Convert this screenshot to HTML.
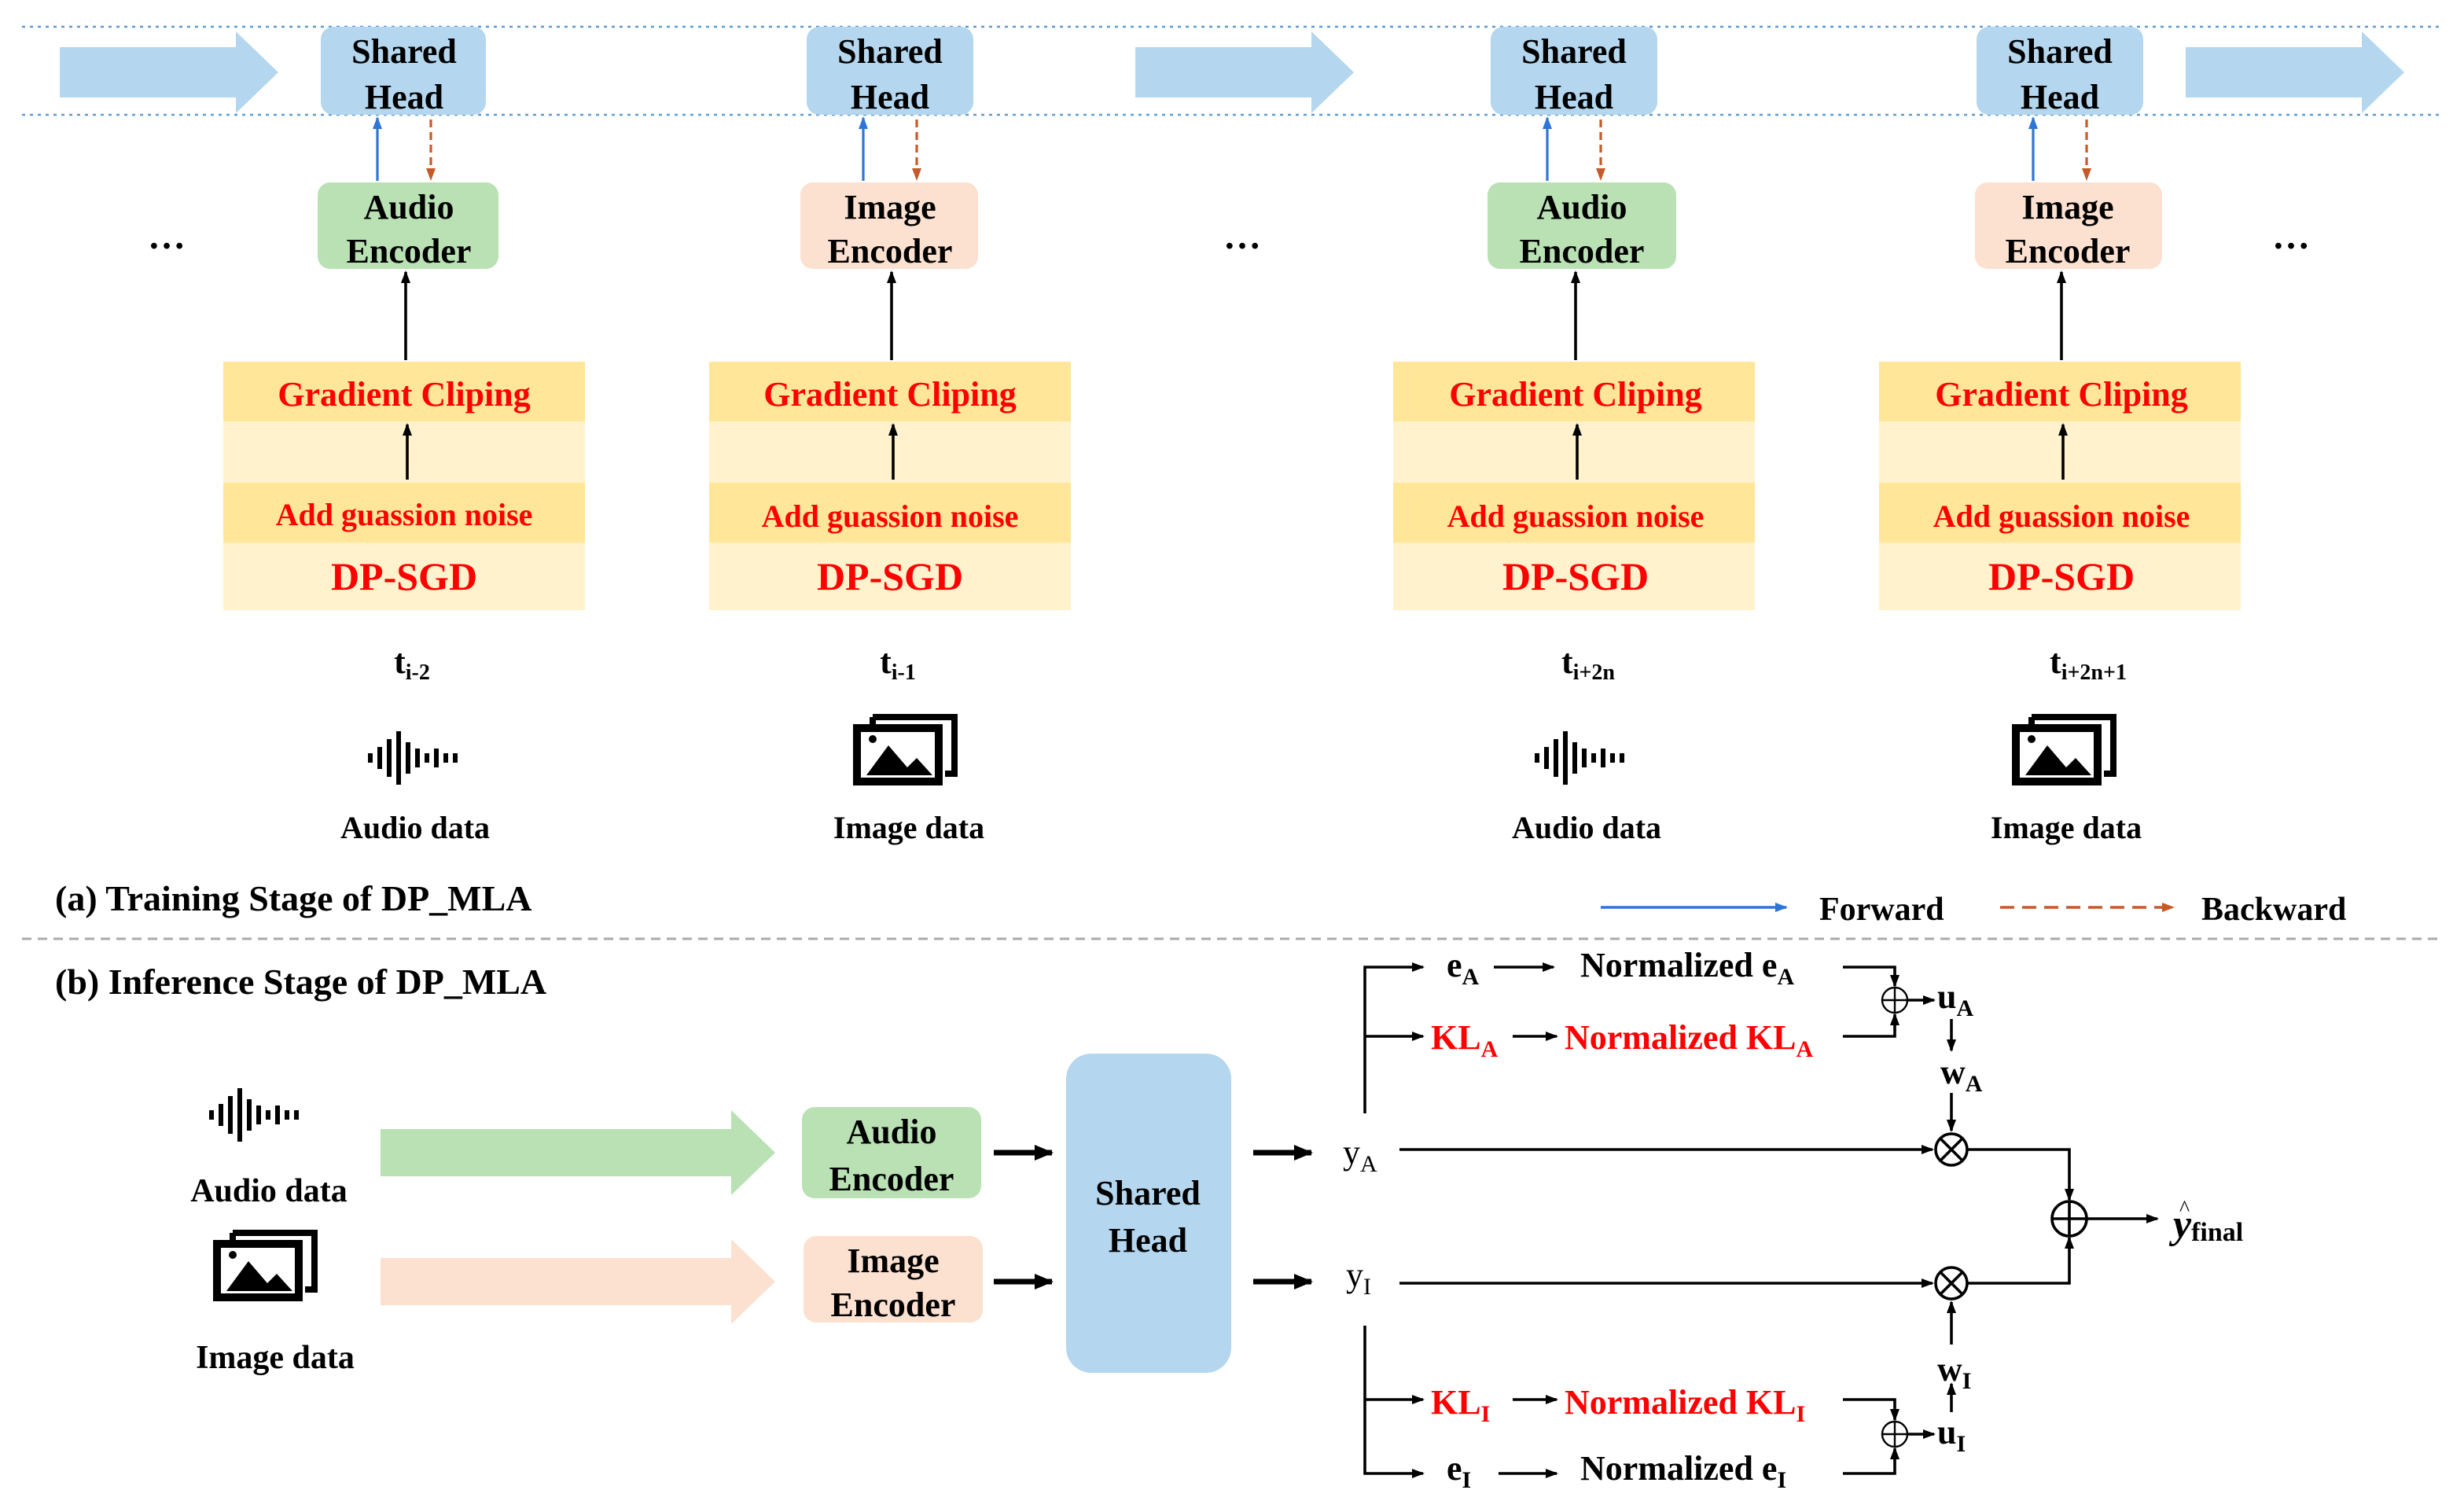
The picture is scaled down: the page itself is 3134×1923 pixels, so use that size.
<!DOCTYPE html>
<html><head><meta charset="utf-8"><style>html,body{margin:0;padding:0;background:#fff}svg{display:block}svg text,svg tspan{font-family:"Liberation Serif","Times New Roman","Noto Serif CJK SC","DejaVu Serif",serif !important}</style></head>
<body>
<svg width="3134" height="1923" viewBox="0 0 1567 961.5" xmlns="http://www.w3.org/2000/svg" font-weight="bold">
<defs>
<marker id="ab" markerWidth="8" markerHeight="8" refX="7" refY="4" orient="auto" markerUnits="userSpaceOnUse"><path d="M0,1 L8,4 L0,7 z" fill="#000"/></marker>
<marker id="abl" markerWidth="8" markerHeight="8" refX="7" refY="4" orient="auto" markerUnits="userSpaceOnUse"><path d="M0,1 L8,4 L0,7 z" fill="#2e75d6"/></marker>
<marker id="ar" markerWidth="8" markerHeight="8" refX="7" refY="4" orient="auto" markerUnits="userSpaceOnUse"><path d="M0,1 L8,4 L0,7 z" fill="#c55a28"/></marker>
<marker id="abig" markerWidth="12" markerHeight="12" refX="11" refY="6" orient="auto" markerUnits="userSpaceOnUse"><path d="M0,1 L12,6 L0,11 z" fill="#000"/></marker>
<g id="audio"><rect x="-28" y="-3" width="3" height="6"/><rect x="-22" y="-7" width="3" height="14"/><rect x="-16" y="-12" width="3" height="24"/><rect x="-10" y="-17" width="3" height="34"/><rect x="-4" y="-10" width="3" height="20"/><rect x="2" y="-6" width="3" height="12"/><rect x="8" y="-3" width="3" height="6"/><rect x="14" y="-6" width="3" height="12"/><rect x="20" y="-3" width="3" height="6"/><rect x="26" y="-3" width="3" height="6"/></g>
<g id="image"><path d="M-20,-24 H32 V12 H26" fill="none" stroke="#000" stroke-width="4"/><path d="M-20,-24 V-18" stroke="#000" stroke-width="4"/><rect x="-30" y="-17" width="52" height="34" fill="#fff" stroke="#000" stroke-width="5"/><path d="M-24,13 L-10,-6 L2,8 L8,2 L18,13 z" fill="#000"/><circle cx="-20" cy="-10" r="2.5" fill="#000"/></g>
</defs>

<line x1="14" y1="17" x2="1552" y2="17" stroke="#5b9bd5" stroke-width="1.2" stroke-dasharray="2,3"/>
<line x1="14" y1="73" x2="1552" y2="73" stroke="#5b9bd5" stroke-width="1.2" stroke-dasharray="2,3"/>

<g fill="#b4d7ef">
<path d="M38,30 H150 V20 L177,46 L150,72 V62 H38 z"/>
<path d="M722,30 H834 V20 L861,46 L834,72 V62 H722 z"/>
<path d="M1390,30 H1502 V20 L1529,46 L1502,72 V62 H1390 z"/>
</g>

<g font-size="22" text-anchor="middle">
<rect x="204" y="17" width="105" height="56" rx="8" fill="#b4d7ef"/>
<text x="257" y="40">Shared</text><text x="257" y="69">Head</text>
<rect x="513" y="17" width="106" height="56" rx="8" fill="#b4d7ef"/>
<text x="566" y="40">Shared</text><text x="566" y="69">Head</text>
<rect x="948" y="17" width="106" height="56" rx="8" fill="#b4d7ef"/>
<text x="1001" y="40">Shared</text><text x="1001" y="69">Head</text>
<rect x="1257" y="17" width="106" height="56" rx="8" fill="#b4d7ef"/>
<text x="1310" y="40">Shared</text><text x="1310" y="69">Head</text>

<rect x="202" y="116" width="115" height="55" rx="8" fill="#b9e1b4"/>
<text x="260" y="139">Audio</text><text x="260" y="167">Encoder</text>
<rect x="509" y="116" width="113" height="55" rx="8" fill="#fce0d0"/>
<text x="566" y="139">Image</text><text x="566" y="167">Encoder</text>
<rect x="946" y="116" width="120" height="55" rx="8" fill="#b9e1b4"/>
<text x="1006" y="139">Audio</text><text x="1006" y="167">Encoder</text>
<rect x="1256" y="116" width="119" height="55" rx="8" fill="#fce0d0"/>
<text x="1315" y="139">Image</text><text x="1315" y="167">Encoder</text>
</g>

<g stroke-width="1.6">
<line x1="240" y1="115" x2="240" y2="75" stroke="#2e75d6" marker-end="url(#abl)"/>
<line x1="274" y1="76" x2="274" y2="114" stroke="#c55a28" stroke-dasharray="5,3" marker-end="url(#ar)"/>
<line x1="549" y1="115" x2="549" y2="75" stroke="#2e75d6" marker-end="url(#abl)"/>
<line x1="583" y1="76" x2="583" y2="114" stroke="#c55a28" stroke-dasharray="5,3" marker-end="url(#ar)"/>
<line x1="984" y1="115" x2="984" y2="75" stroke="#2e75d6" marker-end="url(#abl)"/>
<line x1="1018" y1="76" x2="1018" y2="114" stroke="#c55a28" stroke-dasharray="5,3" marker-end="url(#ar)"/>
<line x1="1293" y1="115" x2="1293" y2="75" stroke="#2e75d6" marker-end="url(#abl)"/>
<line x1="1327" y1="76" x2="1327" y2="114" stroke="#c55a28" stroke-dasharray="5,3" marker-end="url(#ar)"/>
</g>

<g id="dp1">
<rect x="142" y="230" width="230" height="158" fill="#fff2cc"/>
<rect x="142" y="230" width="230" height="38" fill="#ffe699"/>
<rect x="142" y="307" width="230" height="38" fill="#ffe699"/>
</g>
<use href="#dp1" x="309"/><use href="#dp1" x="744"/><use href="#dp1" x="1053"/>
<g fill="#ff0000" text-anchor="middle">
<g font-size="22"><text x="257" y="258">Gradient Cliping</text><text x="566" y="258">Gradient Cliping</text><text x="1002" y="258">Gradient Cliping</text><text x="1311" y="258">Gradient Cliping</text></g>
<g font-size="20"><text x="257" y="334">Add guassion noise</text><text x="566" y="335">Add guassion noise</text><text x="1002" y="335">Add guassion noise</text><text x="1311" y="335">Add guassion noise</text></g>
<g font-size="25"><text x="257" y="375">DP-SGD</text><text x="566" y="375">DP-SGD</text><text x="1002" y="375">DP-SGD</text><text x="1311" y="375">DP-SGD</text></g>
</g>
<g stroke="#000" stroke-width="1.8">
<line x1="258" y1="229" x2="258" y2="173" marker-end="url(#ab)"/>
<line x1="259" y1="305" x2="259" y2="270" marker-end="url(#ab)"/>
<line x1="567" y1="229" x2="567" y2="173" marker-end="url(#ab)"/>
<line x1="568" y1="305" x2="568" y2="270" marker-end="url(#ab)"/>
<line x1="1002" y1="229" x2="1002" y2="173" marker-end="url(#ab)"/>
<line x1="1003" y1="305" x2="1003" y2="270" marker-end="url(#ab)"/>
<line x1="1311" y1="229" x2="1311" y2="173" marker-end="url(#ab)"/>
<line x1="1312" y1="305" x2="1312" y2="270" marker-end="url(#ab)"/>
</g>

<g font-size="24" text-anchor="middle"><text x="106" y="158">…</text><text x="790" y="158">…</text><text x="1457" y="158">…</text></g>

<g font-size="22" text-anchor="middle">
<text x="262" y="428">t<tspan font-size="14" dy="4">i-2</tspan></text>
<text x="571" y="428">t<tspan font-size="14" dy="4">i-1</tspan></text>
<text x="1010" y="428">t<tspan font-size="14" dy="4">i+2n</tspan></text>
<text x="1328" y="428">t<tspan font-size="14" dy="4">i+2n+1</tspan></text>
</g>
<use href="#audio" x="262" y="482"/>
<use href="#image" x="575" y="480"/>
<use href="#audio" x="1004" y="482"/>
<use href="#image" x="1312" y="480"/>
<g font-size="20" text-anchor="middle">
<text x="264" y="533">Audio data</text><text x="578" y="533">Image data</text><text x="1009" y="533">Audio data</text><text x="1314" y="533">Image data</text>
</g>

<text x="35" y="579" font-size="23">(a)  Training Stage of DP_MLA</text>
<line x1="1018" y1="577" x2="1136" y2="577" stroke="#2e75d6" stroke-width="1.8" marker-end="url(#abl)"/>
<text x="1157" y="585" font-size="21">Forward</text>
<line x1="1272" y1="577" x2="1382" y2="577" stroke="#c55a28" stroke-width="1.8" stroke-dasharray="9,5" marker-end="url(#ar)"/>
<text x="1400" y="585" font-size="21">Backward</text>
<line x1="14" y1="597" x2="1552" y2="597" stroke="#aaa" stroke-width="1.5" stroke-dasharray="6,4"/>
<text x="35" y="632" font-size="23">(b)  Inference Stage of DP_MLA</text>

<use href="#audio" x="161" y="709"/>
<text x="171" y="764" font-size="21" text-anchor="middle">Audio data</text>
<use href="#image" x="168" y="808"/>
<text x="175" y="870" font-size="21" text-anchor="middle">Image data</text>
<path d="M242,718 H465 V706 L493,733 L465,760 V748 H242 z" fill="#b9e1b4"/>
<path d="M242,800 H465 V788 L493,815 L465,842 V830 H242 z" fill="#fce0d0"/>
<rect x="510" y="704" width="114" height="58" rx="8" fill="#b9e1b4"/>
<rect x="511" y="786" width="114" height="55" rx="8" fill="#fce0d0"/>
<rect x="678" y="670" width="105" height="203" rx="16" fill="#b4d7ef"/>
<g font-size="22" text-anchor="middle">
<text x="567" y="727">Audio</text><text x="567" y="757">Encoder</text>
<text x="568" y="809">Image</text><text x="568" y="837">Encoder</text>
<text x="730" y="766">Shared</text><text x="730" y="796">Head</text>
</g>
<g stroke="#000" stroke-width="3.5">
<line x1="632" y1="733" x2="669" y2="733" marker-end="url(#abig)"/>
<line x1="632" y1="815" x2="669" y2="815" marker-end="url(#abig)"/>
<line x1="797" y1="733" x2="834" y2="733" marker-end="url(#abig)"/>
<line x1="797" y1="815" x2="834" y2="815" marker-end="url(#abig)"/>
</g>

<g font-size="22">
<text x="854" y="740" font-weight="normal">y<tspan font-size="15" dy="5">A</tspan></text>
<text x="856" y="818" font-weight="normal">y<tspan font-size="15" dy="5">I</tspan></text>
<text x="920" y="621">e<tspan font-size="15" dy="5">A</tspan></text>
<text x="1005" y="621">Normalized e<tspan font-size="15" dy="5">A</tspan></text>
<text x="920" y="941">e<tspan font-size="15" dy="5">I</tspan></text>
<text x="1005" y="941">Normalized e<tspan font-size="15" dy="5">I</tspan></text>
<g fill="#ff0000">
<text x="910" y="667">KL<tspan font-size="15" dy="5">A</tspan></text>
<text x="995" y="667">Normalized KL<tspan font-size="15" dy="5">A</tspan></text>
<text x="910" y="899">KL<tspan font-size="15" dy="5">I</tspan></text>
<text x="995" y="899">Normalized KL<tspan font-size="15" dy="5">I</tspan></text>
</g>
<text x="1232" y="641">u<tspan font-size="15" dy="5">A</tspan></text>
<text x="1234" y="689">w<tspan font-size="15" dy="5">A</tspan></text>
<text x="1232" y="878">w<tspan font-size="15" dy="5">I</tspan></text>
<text x="1232" y="918">u<tspan font-size="15" dy="5">I</tspan></text>
<text x="1382" y="787" font-style="italic" font-size="26">y<tspan font-style="normal" font-size="17" dy="2">final</tspan></text>
<text x="1386" y="773" font-size="14" font-weight="normal">^</text>
</g>
<g fill="none" stroke="#000" stroke-width="1.8">
<path d="M868,708 V615 H905" marker-end="url(#ab)"/>
<line x1="868" y1="659" x2="905" y2="659" marker-end="url(#ab)"/>
<line x1="950" y1="615" x2="988" y2="615" marker-end="url(#ab)"/>
<line x1="962" y1="659" x2="990" y2="659" marker-end="url(#ab)"/>
<path d="M1172,615 H1205 V627" marker-end="url(#ab)"/>
<path d="M1172,659 H1205 V645" marker-end="url(#ab)"/>
<circle cx="1205" cy="636" r="8" stroke-width="1.2"/>
<path d="M1197,636 H1213 M1205,628 V644" stroke-width="1.2"/>
<line x1="1213" y1="636" x2="1230" y2="636" marker-end="url(#ab)"/>
<line x1="1241" y1="648" x2="1241" y2="668" marker-end="url(#ab)"/>
<line x1="1241" y1="695" x2="1241" y2="719" marker-end="url(#ab)"/>
<line x1="890" y1="731" x2="1229" y2="731" marker-end="url(#ab)"/>
<circle cx="1241" cy="731" r="10"/>
<path d="M1234,724 L1248,738 M1248,724 L1234,738"/>
<path d="M1251,731 H1316 V763" marker-end="url(#ab)"/>
<line x1="890" y1="816" x2="1229" y2="816" marker-end="url(#ab)"/>
<circle cx="1241" cy="816" r="10"/>
<path d="M1234,809 L1248,823 M1248,809 L1234,823"/>
<path d="M1251,816 H1316 V787" marker-end="url(#ab)"/>
<circle cx="1316" cy="775" r="11"/>
<path d="M1305,775 H1327 M1316,764 V786"/>
<line x1="1327" y1="775" x2="1372" y2="775" marker-end="url(#ab)"/>
<line x1="1241" y1="855" x2="1241" y2="828" marker-end="url(#ab)"/>
<line x1="1241" y1="898" x2="1241" y2="880" marker-end="url(#ab)"/>
<path d="M868,843 V937 H905" marker-end="url(#ab)"/>
<line x1="868" y1="890" x2="905" y2="890" marker-end="url(#ab)"/>
<line x1="962" y1="890" x2="990" y2="890" marker-end="url(#ab)"/>
<line x1="953" y1="937" x2="990" y2="937" marker-end="url(#ab)"/>
<path d="M1172,890 H1205 V903" marker-end="url(#ab)"/>
<path d="M1172,937 H1205 V921" marker-end="url(#ab)"/>
<circle cx="1205" cy="912" r="8" stroke-width="1.2"/>
<path d="M1197,912 H1213 M1205,904 V920" stroke-width="1.2"/>
<line x1="1213" y1="912" x2="1230" y2="912" marker-end="url(#ab)"/>
</g>
</svg>
</body></html>
